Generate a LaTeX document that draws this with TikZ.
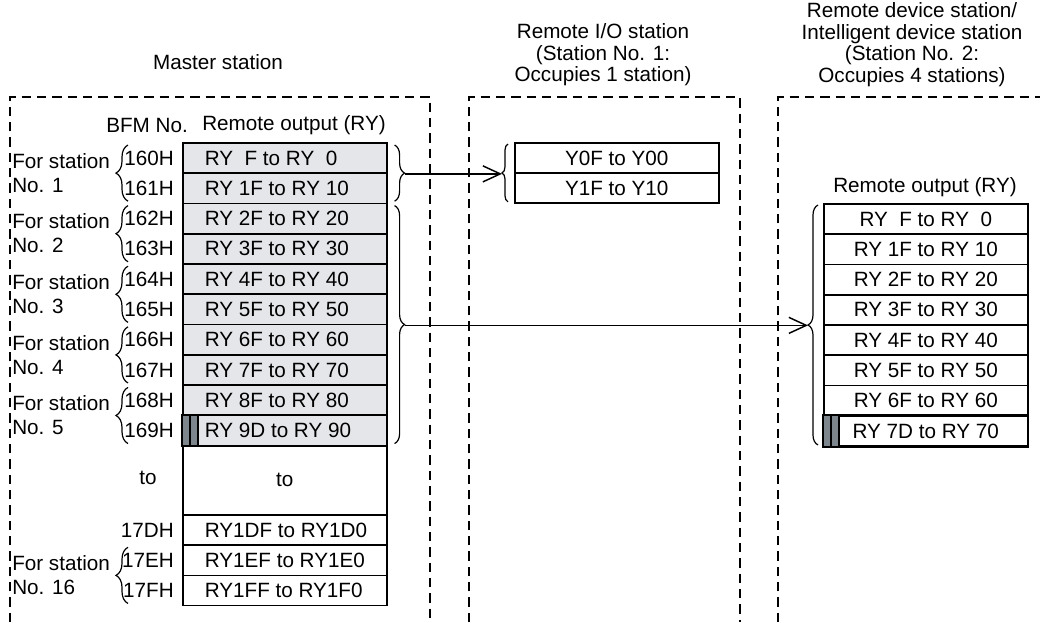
\documentclass[tikz,border=0pt]{standalone}
\usepackage{fontspec}
\setmainfont{Liberation Sans}
\usetikzlibrary{arrows.meta,decorations.pathreplacing,calc}
\definecolor{rowgray}{HTML}{E5E6EA}
\definecolor{bargray}{HTML}{7E868D}
\newcommand\leftrowtext[1]{\makebox[120pt][l]{#1}}
\begin{document}
\begin{tikzpicture}[x=0.75pt,y=-0.75pt,
  font=\fontsize{15.5}{16.1}\selectfont,
  dashbox/.style={line width=1pt, dash pattern=on 7pt off 4.5pt},
  mrow/.style={draw, line width=1.2pt, fill=rowgray, minimum height=22.7pt,
    inner xsep=16.5pt, inner ysep=0pt, anchor=north west},
  wrow/.style={mrow, fill=white},
  rrow/.style={draw, line width=1.2pt, fill=white, minimum width=153pt,
    minimum height=22.7pt, inner sep=0pt, anchor=north west},
  bfm/.style={anchor=east, inner sep=0pt},
  stlabel/.style={anchor=west, align=left, inner sep=0pt, font=\fontsize{15.5}{18}\selectfont},
  ttl/.style={align=center, inner sep=0pt},
  curly/.style={decorate, decoration={brace, amplitude=#1}, line width=0.9pt},
  arr/.style={line width=1.1pt, -{Straight Barb[length=13pt, width=12pt, line width=1.1pt]}}
]
\useasboundingbox (0,0) rectangle (1040,622);

% dashed station frames
\draw[dashbox] (10,622) -- (10,97) -- (430,97) -- (430,622);
\draw[dashbox] (469,622) -- (469,97) -- (740,97) -- (740,622);
\draw[dashbox] (778,622) -- (778,97) -- (1040,97);

% titles
\node[ttl] (tm) at (218,62) {Master station};
\node[ttl] (tio) at (603,55) {Remote I/O station\\(Station No. 1:\\Occupies 1 station)};
\node[ttl] (tdev) at (912,44.5) {Remote device station/\\Intelligent device station\\(Station No. 2:\\Occupies 4 stations)};

% master headers
\node[anchor=west, inner sep=0pt] (hbfm) at (106,125) {BFM No.};
\node[inner sep=0pt] (hro) at (294,125) {Remote output (RY)};

% master rows
\foreach \i/\b/\t in {0/160H/{RY~~F to RY~~0},1/161H/{RY 1F to RY 10},2/162H/{RY 2F to RY 20},
  3/163H/{RY 3F to RY 30},4/164H/{RY 4F to RY 40},5/165H/{RY 5F to RY 50},
  6/166H/{RY 6F to RY 60},7/167H/{RY 7F to RY 70},8/168H/{RY 8F to RY 80},9/169H/{RY 9D to RY 90}}{
  \node[mrow] (m\i) at (182,{142+30.3*\i}) {\leftrowtext{\t}};
  \node[bfm] (b\i) at ($(m\i.west)+(-8,0)$) {\b};
}
% dark bars in 169H
\fill[bargray] (m9.north west) rectangle ($(m9.south west)+(16,0)$);
\draw[line width=1pt] ($(m9.north west)+(8,0)$) -- ($(m9.south west)+(8,0)$);
\draw[line width=1.2pt] ($(m9.north west)+(16,0)$) -- ($(m9.south west)+(16,0)$);
\draw[line width=1.2pt] (m9.north west) rectangle (m9.south east);

% "to" row
\node[draw, line width=1.2pt, minimum width=153pt, minimum height=51.75pt,
  anchor=north west, inner sep=0pt] (mto) at (182,445) {to};
\node[inner sep=0pt] (lto) at (148,478) {to};

% last rows
\foreach \i/\k/\b/\t in {d/0/17DH/{RY1DF to RY1D0},e/1/17EH/{RY1EF to RY1E0},f/2/17FH/{RY1FF to RY1F0}}{
  \node[wrow] (m\i) at (182,{514+30.3*\k}) {\leftrowtext{\t}};
  \node[bfm] (b\i) at ($(m\i.west)+(-8,0)$) {\b};
}

% station labels and left braces
\coordinate (L) at (12,0);
\foreach \a/\c/\n in {0/1/1,2/3/2,4/5/3,6/7/4,8/9/5,e/f/16}{
  \node[stlabel] (s\n) at ($(m\a.south -| L)+(0,-1)$) {For station\\No. \n};
  \draw[curly=9pt] ($(m\c.south west)+(-54,-3)$) -- ($(m\a.north west)+(-54,3)$);
}

% master right braces
\draw[curly=7.5pt] ($(m0.north east)+(7,3)$) -- ($(m1.south east)+(7,-3)$);
\draw[curly=7.5pt] ($(m2.north east)+(7,3)$) -- ($(m9.south east)+(7,-3)$);
\coordinate (t1) at ($(m0.south east)+(17,0)$);
\coordinate (t3) at ($(m5.south east)+(17,0)$);

% remote I/O station table
\node[rrow] (io0) at (514,142) {Y0F to Y00};
\node[rrow] (io1) at (514,172) {Y1F to Y10};
\draw[curly=4.5pt] ($(io1.south west)+(-6,-2)$) -- ($(io0.north west)+(-6,2)$);
\coordinate (t2) at ($(io0.south west)+(-12,0)$);

% remote device station table
\node[inner sep=0pt] (hro2) at (925,187) {Remote output (RY)};
\foreach \i/\t in {0/{RY~~F to RY~~0},1/{RY 1F to RY 10},2/{RY 2F to RY 20},3/{RY 3F to RY 30},
  4/{RY 4F to RY 40},5/{RY 5F to RY 50},6/{RY 6F to RY 60},7/{RY 7D to RY 70}}{
  \node[rrow] (r\i) at (823,{203+30.3*\i}) {\t};
}
\fill[bargray] (r7.north west) rectangle ($(r7.south west)+(16,0)$);
\draw[line width=1pt] ($(r7.north west)+(8,0)$) -- ($(r7.south west)+(8,0)$);
\draw[line width=1.2pt] ($(r7.north west)+(16,0)$) -- ($(r7.south west)+(16,0)$);
\draw[line width=1.2pt] (r7.north west) rectangle (r7.south east);
\draw[curly=7.5pt] ($(r7.south west)+(-5,-2)$) -- ($(r0.north west)+(-5,2)$);
\coordinate (t4) at ($(r3.south west)+(-15,0)$);

% arrows
\draw[arr] (t1) -- (t2);
\draw[arr] (t3) -- (t3 -| t4);
\end{tikzpicture}
\end{document}
